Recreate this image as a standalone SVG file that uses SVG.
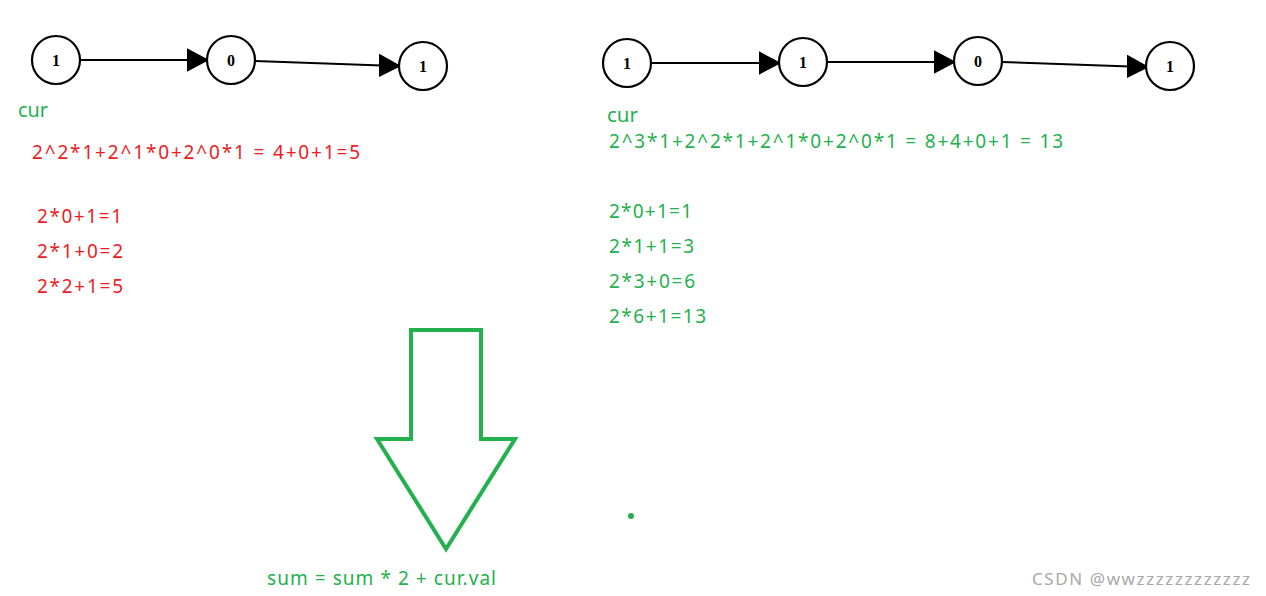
<svg xmlns="http://www.w3.org/2000/svg" width="1266" height="596" viewBox="0 0 1266 596">
<style>
.node circle{fill:#fff;stroke:#000;stroke-width:2.2}
.node text{font-family:"Liberation Serif",serif;font-size:16px;font-weight:bold;text-anchor:middle}
.r{fill:#ed1c24;font-family:"Noto Sans",sans-serif;font-size:19px}
.g{fill:#22b14c;font-family:"Noto Sans",sans-serif;font-size:19px}
.wm{fill:#a8a8a8;font-family:"Noto Sans",sans-serif;font-size:17px}
</style>
<rect width="1266" height="596" fill="#fff"/>
<g id="connectors" stroke="#000" stroke-width="2">
<line x1="79" y1="60" x2="190" y2="60"/>
<path d="M188,50 L207,60 L188,70 Z"/>
<line x1="255" y1="61" x2="382" y2="65.5"/>
<path d="M380,55.5 L399,66 L380,75.5 Z"/>
<line x1="650" y1="63" x2="762" y2="63"/>
<path d="M760,53 L779,63 L760,73 Z"/>
<line x1="827" y1="62" x2="937" y2="62"/>
<path d="M935,52 L954,62 L935,72 Z"/>
<line x1="1002" y1="62" x2="1130" y2="66.5"/>
<path d="M1128,56.5 L1147,67 L1128,76.5 Z"/>
</g>
<g id="n1" class="node"><circle cx="56" cy="60" r="24"/><text x="56" y="66">1</text></g>
<g id="n2" class="node"><circle cx="231" cy="60" r="24"/><text x="231" y="66">0</text></g>
<g id="n3" class="node"><circle cx="423" cy="66" r="24"/><text x="423" y="72">1</text></g>
<g id="n4" class="node"><circle cx="627" cy="63" r="24"/><text x="627" y="69">1</text></g>
<g id="n5" class="node"><circle cx="803" cy="62" r="24"/><text x="803" y="68">1</text></g>
<g id="n6" class="node"><circle cx="978" cy="61" r="24"/><text x="978" y="67">0</text></g>
<g id="n7" class="node"><circle cx="1170" cy="66" r="24"/><text x="1170" y="72">1</text></g>
<text class="g" x="18" y="117" textLength="30" lengthAdjust="spacingAndGlyphs">cur</text>
<text class="r" x="32" y="159" textLength="328">2^2*1+2^1*0+2^0*1 = 4+0+1=5</text>
<text class="r" x="37" y="223" textLength="85">2*0+1=1</text>
<text class="r" x="37" y="258" textLength="86">2*1+0=2</text>
<text class="r" x="37" y="293" textLength="86">2*2+1=5</text>
<text class="g" x="607" y="122" textLength="31" lengthAdjust="spacingAndGlyphs">cur</text>
<text class="g" x="609" y="148" textLength="454">2^3*1+2^2*1+2^1*0+2^0*1 = 8+4+0+1 = 13</text>
<text class="g" x="609" y="218" textLength="83">2*0+1=1</text>
<text class="g" x="609" y="253" textLength="85">2*1+1=3</text>
<text class="g" x="609" y="288" textLength="86">2*3+0=6</text>
<text class="g" x="609" y="323" textLength="97">2*6+1=13</text>
<path d="M411,330 L481,330 L481,439 L515,439 L446,549 L377,439 L411,439 Z" fill="none" stroke="#22b14c" stroke-width="4" stroke-linejoin="miter"/>
<circle cx="631" cy="516" r="3" fill="#22b14c"/>
<text class="g" x="267" y="585" textLength="229">sum = sum * 2 + cur.val</text>
<text class="wm" x="1032" y="585" textLength="218">CSDN @wwzzzzzzzzzzzz</text>
</svg>
